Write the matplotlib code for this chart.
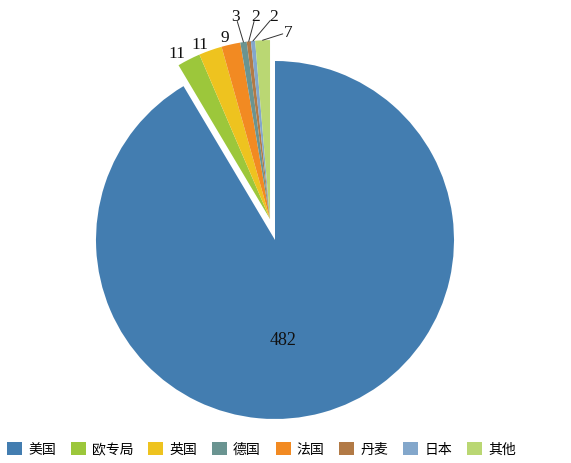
import numpy as np
import matplotlib
matplotlib.use("Agg")
import matplotlib.pyplot as plt
from matplotlib.patches import Patch

# ---- data ----
countries = ['美国', '欧专局', '英国', '德国', '法国', '丹麦', '日本', '其他']
counts = [482, 11, 11, 3, 9, 2, 2, 7]
colors = ['#437DB0', '#9CC73B', '#EEC31F', '#6A9491', '#F28A22', '#B27A46', '#83A7CB', '#BAD773']
pie_order = ['美国', '欧专局', '英国', '法国', '德国', '丹麦', '日本', '其他']

W, H = 571, 464
fig = plt.figure(figsize=(W / 100, H / 100), dpi=100)
ax = fig.add_axes([0, 0, 1, 1])

cx, cy, R = 275, 241, 179  # pixel layout of the pie
idx = [countries.index(c) for c in pie_order]
vals = [counts[i] for i in idx]
cols = [colors[i] for i in idx]

wedges, _ = ax.pie(vals, colors=cols, startangle=90, counterclock=False,
                   radius=1, center=(0, 0), wedgeprops=dict(linewidth=0))

# shift all small slices together as a group
total = sum(vals)
small = sum(vals[1:])
group_mid = np.deg2rad(90 + small / total * 360 / 2 - 2)
ex = 0.12
dx, dy = ex * np.cos(group_mid), ex * np.sin(group_mid)
for w in wedges[1:]:
    w.set_center((dx, dy))

serif = 'Liberation Serif'

# big label
th = np.deg2rad(-85.4)
ax.text(0.555 * np.cos(th), 0.555 * np.sin(th), str(vals[0]), ha='center', va='center',
        fontsize=13, family=serif, color='#111')

# small slice labels
leader = {4: (1.150, 99.6), 5: (1.137, 94.1), 6: (1.134, 88.9), 7: (1.049, 84.5)}
for k in range(1, len(vals)):
    w = wedges[k]
    mid = np.deg2rad((w.theta1 + w.theta2) / 2)
    if k in leader:
        d, a = leader[k]
        a = np.deg2rad(a)
        ax.annotate(str(vals[k]),
                    xy=(dx + np.cos(mid), dy + np.sin(mid)),
                    xytext=(dx + d * np.cos(a), dy + d * np.sin(a)),
                    ha='center', va='center', fontsize=12.5, family=serif, color='#111',
                    arrowprops=dict(arrowstyle='-', color='#333', lw=0.7,
                                    patchA=None, shrinkA=4, shrinkB=0))
    else:
        d = 1.04
        ax.text(dx + d * np.cos(mid), dy + d * np.sin(mid), str(vals[k]),
                ha='right', va='center', fontsize=12.5, family=serif, color='#111')

ax.set_xlim(-cx / R, (W - cx) / R)
ax.set_ylim(-(H - cy) / R, cy / R)
ax.set_aspect('auto')
ax.axis('off')

# legend
handles = [Patch(facecolor=colors[i], edgecolor='none') for i in range(len(countries))]
fs = 10
fig.legend(handles, countries, loc='center left', bbox_to_anchor=(7 / W, 14 / H),
           ncol=len(countries), frameon=False,
           prop={'family': ['Noto Sans CJK SC', 'DejaVu Sans'], 'size': fs},
           handlelength=1.08, handleheight=1.08, handletextpad=0.43,
           columnspacing=1.08, borderpad=0, borderaxespad=0)

fig.savefig('out.png', dpi=100)
